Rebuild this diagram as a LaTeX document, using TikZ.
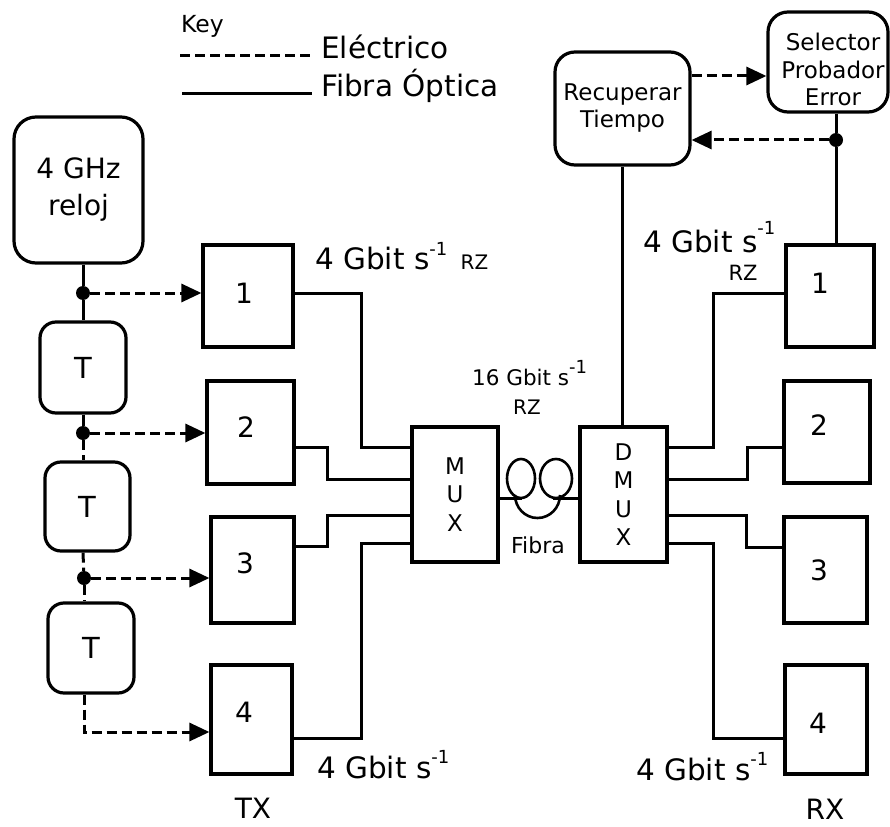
\documentclass[tikz,border=0pt]{standalone}
\usepackage{fontspec}
\setmainfont{DejaVu Sans}
\usetikzlibrary{arrows.meta,calc}
\newcommand\upx[2]{\raisebox{#1}{\fontsize{18}{18}\selectfont #2}}
\begin{document}
\begin{tikzpicture}[x=1pt,y=-1pt,
  ln/.style={line width=3pt},
  bx/.style={draw,line width=3.2pt,rectangle,inner sep=0pt},
  rbx/.style={bx,rounded corners=#1},
  el/.style={line width=3pt,dash pattern=on 10pt off 5pt},
  arr/.style={-{Triangle[length=20pt,width=18pt]}},
  jdot/.style={circle,fill=black,inner sep=0pt,minimum size=14pt},
]
\useasboundingbox (0,0) rectangle (890,826);

% ---- key ----
\node[font=\fontsize{23.5}{23.5}\selectfont,anchor=base west,inner sep=0pt] (key) at (181,33) {Key};
\node[font=\fontsize{29.5}{29.5}\selectfont,anchor=base west,inner sep=0pt] (kel) at (321,59) {Eléctrico};
\node[font=\fontsize{29.5}{29.5}\selectfont,anchor=base west,inner sep=0pt] (kfo) at (321,97) {Fibra Óptica};
\coordinate (ke1) at (180,56);
\coordinate (kf1) at (182,94);
\draw[el] (ke1) -- (312,56);
\draw[ln] (kf1) -- (312,94);

% ---- clock and delays ----
\node[rbx=22pt,minimum width=129pt,minimum height=146pt,align=center,
      font=\fontsize{28}{37}\selectfont] (clock) at (78.5,190) {4 GHz\\reloj};
\node[rbx=16pt,minimum width=86pt,minimum height=91pt,font=\fontsize{29}{29}\selectfont] (t1) at (83,367.5) {T};
\node[rbx=16pt,minimum width=85pt,minimum height=89pt,font=\fontsize{29}{29}\selectfont] (t2) at (87.5,506.5) {T};
\node[rbx=16pt,minimum width=86pt,minimum height=90pt,font=\fontsize{29}{29}\selectfont] (t3) at (91,648) {T};
\node[jdot] (d1) at (83,293) {};
\node[jdot] (d2) at (83,433) {};
\node[jdot] (d3) at (84,578) {};

% ---- TX boxes ----
\node[bx,minimum width=90pt,minimum height=102pt] (tx1) at (248,296) {};
\node[bx,minimum width=87pt,minimum height=103pt] (tx2) at (250.5,432.5) {};
\node[bx,minimum width=83pt,minimum height=106pt] (tx3) at (252.5,570) {};
\node[bx,minimum width=81pt,minimum height=109pt] (tx4) at (251.5,719.5) {};
\node[font=\fontsize{28}{28}\selectfont] (tx1l) at (244,293) {1};
\node[font=\fontsize{28}{28}\selectfont] (tx2l) at (246,427) {2};
\node[font=\fontsize{28}{28}\selectfont] (tx3l) at (245,563) {3};
\node[font=\fontsize{28}{28}\selectfont] (tx4l) at (244,712) {4};
\node[font=\fontsize{28}{28}\selectfont,inner sep=0pt] (txl) at (253,808) {TX};

% ---- MUX / DMUX ----
\node[bx,minimum width=86pt,minimum height=135pt,align=center,
      font=\fontsize{23}{28.5}\selectfont] (mux) at (455,494.5) {M\\U\\X};
\node[bx,minimum width=87pt,minimum height=135pt,align=center,
      font=\fontsize{23}{28.3}\selectfont] (dmux) at (623.5,494.5) {D\\M\\U\\X};

% ---- RX boxes ----
\node[bx,minimum width=88pt,minimum height=102pt] (rx1) at (830,296) {};
\node[bx,minimum width=86pt,minimum height=102pt] (rx2) at (827,432) {};
\node[bx,minimum width=83pt,minimum height=106pt] (rx3) at (825.5,570) {};
\node[bx,minimum width=82pt,minimum height=109pt] (rx4) at (826,719.5) {};
\node[font=\fontsize{28}{28}\selectfont] (rx1l) at (820,283) {1};
\node[font=\fontsize{28}{28}\selectfont] (rx2l) at (819,425) {2};
\node[font=\fontsize{28}{28}\selectfont] (rx3l) at (819,570) {3};
\node[font=\fontsize{28}{28}\selectfont] (rx4l) at (818,723) {4};
\node[font=\fontsize{28}{28}\selectfont,inner sep=0pt] (rxl) at (825,809) {RX};

% ---- timing recovery and error tester ----
\node[rbx=20pt,minimum width=135pt,minimum height=113pt,align=center,
      font=\fontsize{23}{27}\selectfont] (rec) at (622.5,108.5) {Recuperar\\Tiempo};
\node[rbx=20pt,minimum width=120pt,minimum height=100pt] (sel) at (828,62) {};
\node[align=center,font=\fontsize{23}{27.5}\selectfont] (selt) at (833,69.5) {Selector\\Probador\\Error};
\node[jdot] (d4) at (836,140) {};

% ---- clock chain connectors ----
\draw[ln] (clock.south -| d1) -- (d1);
\draw[ln] (d1) -- (d1 |- t1.north);
\draw[ln] (d1 |- t1.south) -- (d2);
\draw[el] (d2) -- (d2 |- t2.north);
\draw[el] (d2 |- t2.south) -- (d3);
\draw[el] (d3) -- (d3 |- t3.north);
\draw[el,arr] (d1) -- (d1 -| tx1.west);
\draw[el,arr] (d2) -- (d2 -| tx2.west);
\draw[el,arr] (d3) -- (d3 -| tx3.west);
\draw[el,arr] (d3 |- t3.south) |- ([yshift=-12.5pt]tx4.west);

% ---- TX to MUX ----
\draw[ln] ([yshift=3pt]tx1.east) -| ([xshift=-49pt,yshift=47.5pt]mux.west) -- ([yshift=47.5pt]mux.west);
\draw[ln] ([yshift=-14.5pt]tx2.east) -| ([xshift=-83pt,yshift=15.5pt]mux.west) -- ([yshift=15.5pt]mux.west);
\draw[ln] ([yshift=24pt]tx3.east) -| ([xshift=-83pt,yshift=-20.5pt]mux.west) -- ([yshift=-20.5pt]mux.west);
\draw[ln] ([yshift=-18.5pt]tx4.east) -| ([xshift=-49pt,yshift=-48.5pt]mux.west) -- ([yshift=-48.5pt]mux.west);

% ---- DMUX to RX ----
\draw[ln] ([yshift=47.5pt]dmux.east) -| ([xshift=-71pt,yshift=3pt]rx1.west) -- ([yshift=3pt]rx1.west);
\draw[ln] ([yshift=15.5pt]dmux.east) -| ([xshift=-35pt,yshift=-15pt]rx2.west) -- ([yshift=-15pt]rx2.west);
\draw[ln] ([yshift=-20.5pt]dmux.east) -| ([xshift=-36pt,yshift=23pt]rx3.west) -- ([yshift=23pt]rx3.west);
\draw[ln] ([yshift=-48.5pt]dmux.east) -| ([xshift=-70pt,yshift=-18.5pt]rx4.west) -- ([yshift=-18.5pt]rx4.west);

% ---- receiver top connectors ----
\draw[el,arr] ([yshift=32.5pt]rec.east) -- ([yshift=32.5pt]rec.east -| sel.west);
\draw[ln] (sel.south -| d4) -- (d4) -- (d4 |- rx1.north);
\draw[el,arr] (d4) -- (d4 -| rec.east);
\draw[ln] (rec.south) -- (rec.south |- dmux.north);

% ---- fibre coil ----
\coordinate (fc) at (540,498);
\draw[ln] (mux.east |- fc) -- (522,498);
\draw[ln] (553,498) -- (dmux.west |- fc);
\draw[line width=2.6pt] (521,478.5) ellipse [x radius=14, y radius=19.5];
\draw[line width=2.6pt] (556,478.5) ellipse [x radius=16, y radius=19.5];
\draw[line width=2.6pt] (515,495) arc[start angle=180,end angle=0,x radius=22.5,y radius=23];
\node[font=\fontsize{22}{22}\selectfont] (fib) at (538,545) {Fibra};

% ---- rate labels ----
\node[anchor=base west,inner sep=0pt,font=\fontsize{29.5}{29.5}\selectfont] (r1) at (315,269)
  {4 Gbit s\upx{0.45em}{-1}\hspace{0.45em}{\fontsize{20}{20}\selectfont RZ}};
\node[anchor=base west,inner sep=0pt,font=\fontsize{29.5}{29.5}\selectfont] (r2) at (643,252)
  {4 Gbit s\upx{0.6em}{-1}};
\node[font=\fontsize{21}{21}\selectfont] (r2z) at (743,273) {RZ};
\node[anchor=base west,inner sep=0pt,font=\fontsize{29.5}{29.5}\selectfont] (r3) at (317,778)
  {4 Gbit s\upx{0.5em}{-1}};
\node[anchor=base west,inner sep=0pt,font=\fontsize{29.5}{29.5}\selectfont] (r4) at (636,780)
  {4 Gbit s\upx{0.5em}{-1}};
\node[anchor=base west,inner sep=0pt,font=\fontsize{21.5}{21.5}\selectfont] (r5) at (472,385)
  {16 Gbit s\upx{0.55em}{-1}};
\node[font=\fontsize{20}{20}\selectfont] (r5z) at (527,407) {RZ};
\end{tikzpicture}
\end{document}
